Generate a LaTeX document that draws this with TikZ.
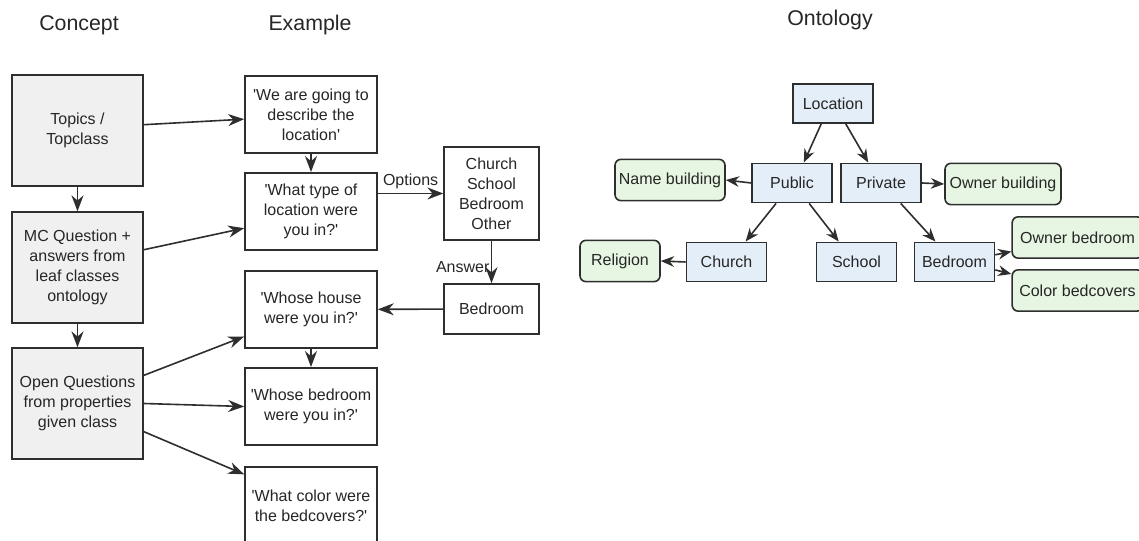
\documentclass[tikz,border=0pt]{standalone}
\usepackage{fontspec}
\setmainfont{Liberation Sans}
\newfontfamily\boxfont{Liberation Sans}
\usetikzlibrary{arrows.meta}
\definecolor{conceptgray}{HTML}{F0F0F0}
\definecolor{classblue}{HTML}{E4EEF8}
\definecolor{propgreen}{HTML}{E6F6E2}
\definecolor{edgegray}{HTML}{2E2E2E}

\begin{document}
\begin{tikzpicture}[x=0.75pt, y=-0.75pt, every node/.style={font=\boxfont\fontsize{12}{15}\selectfont, text=black!85},
	box/.style={draw=edgegray, line width=1.2pt, align=center, inner sep=2pt},
	concept/.style={box, fill=conceptgray, minimum width=98pt, minimum height=83pt},
	example/.style={box, fill=white, minimum width=99pt, minimum height=58pt},
	cls/.style={box, fill=classblue, minimum width=60pt, minimum height=29.5pt},
	prop/.style={box, fill=propgreen, rounded corners=4.5pt, minimum height=31pt},
	link/.style={-{Stealth[length=12pt, width=9pt]}, draw=edgegray, line width=1.2pt},
	olink/.style={-{Stealth[length=10pt, width=8pt]}, draw=edgegray, line width=1.2pt},
	title/.style={font=\boxfont\fontsize{16}{19}\selectfont}]
	\useasboundingbox (0,0) rectangle (1139,541);
	\clip (0,0) rectangle (1139,541);
	% column titles
	\node[title] (tconcept) at (79,25) {Concept};
	\node[title] (texample) at (310,25) {Example};
	\node[title] (tonto) at (830,20) {Ontology};
	% concept column
	\node[concept] (topics) at (77.5,130.5) {Topics /\\Topclass};
	\node[concept] (mcq) at (77.5,267.5) {MC Question +\\answers from\\leaf classes\\ontology};
	\node[concept] (openq) at (77.5,403.5) {Open Questions\\from properties\\given class};
	\draw[link] (topics) -- (mcq);
	\draw[link] (mcq) -- (openq);
	% example column
	\node[example] (ex1) at (311,114.5) {'We are going to\\describe the\\location'};
	\node[example] (ex2) at (311,211.5) {'What type of\\location were\\you in?'};
	\node[example] (ex3) at (311,309.5) {'Whose house\\were you in?'};
	\node[example] (ex4) at (311,406.5) {'Whose bedroom\\were you in?'};
	\node[example] (ex5) at (311,505.5) {'What color were\\the bedcovers?'};
	\node[box, minimum width=71pt, minimum height=70pt] (opts) at (491.5,193.5) {Church\\School\\Bedroom\\Other};
	\node[box, minimum width=71pt, minimum height=37.5pt] (ans) at (491.5,309) {Bedroom};
	\draw[link] (topics.5) -- (ex1.184);
	\draw[link] (mcq.15) -- (ex2.194);
	\draw[link] (openq.23) -- (ex3.202);
	\draw[link] (openq.east) -- (ex4.west);
	\draw[link] (openq.-23) -- (ex5.155);
	\draw[link] (ex1) -- (ex2);
	\draw[link] (ex3) -- (ex4);
	\draw[link] (ex2.east |- opts.west) -- node[above, inner sep=3pt] {Options} (opts.west);
	\draw[link] (opts) -- node[pos=0.62, left, inner sep=1pt] {Answer} (ans);
	\draw[link] (ans) -- (ex3);
	% ontology
	\node[cls] (loc) at (833,103.5) {Location};
	\node[cls] (public) at (792,183) {Public};
	\node[cls] (private) at (881,183) {Private};
	\node[cls] (church) at (726.5,262) {Church};
	\node[cls] (school) at (856.5,262) {School};
	\node[cls] (bedroom) at (954.5,262) {Bedroom};
	\node[prop, minimum width=82.5pt] (namebld) at (670,180) {Name building};
	\node[prop, minimum width=87pt] (ownbld) at (1003,184) {Owner building};
	\node[prop, minimum width=60pt] (religion) at (620,261) {Religion};
	\node[prop, minimum width=98pt] (ownbed) at (1077.5,237.5) {Owner bedroom};
	\node[prop, minimum width=98pt] (colbed) at (1077.5,290.5) {Color bedcovers};
	\draw[olink] (loc.240) -- (public.60);
	\draw[olink] (loc.-58) -- (private.122);
	\draw[olink] (public.232) -- (church.47);
	\draw[olink] (public.-50) -- (school.131);
	\draw[olink] (private.-46) -- (bedroom.133);
	\draw[olink] (public.west) -- (namebld.east);
	\draw[olink] (private.east) -- (ownbld.west);
	\draw[olink] (church.west) -- (religion.east);
	\draw[olink] (bedroom.10) -- (ownbed.192);
	\draw[olink] (bedroom.-11) -- (colbed.166);
\end{tikzpicture}
\end{document}
